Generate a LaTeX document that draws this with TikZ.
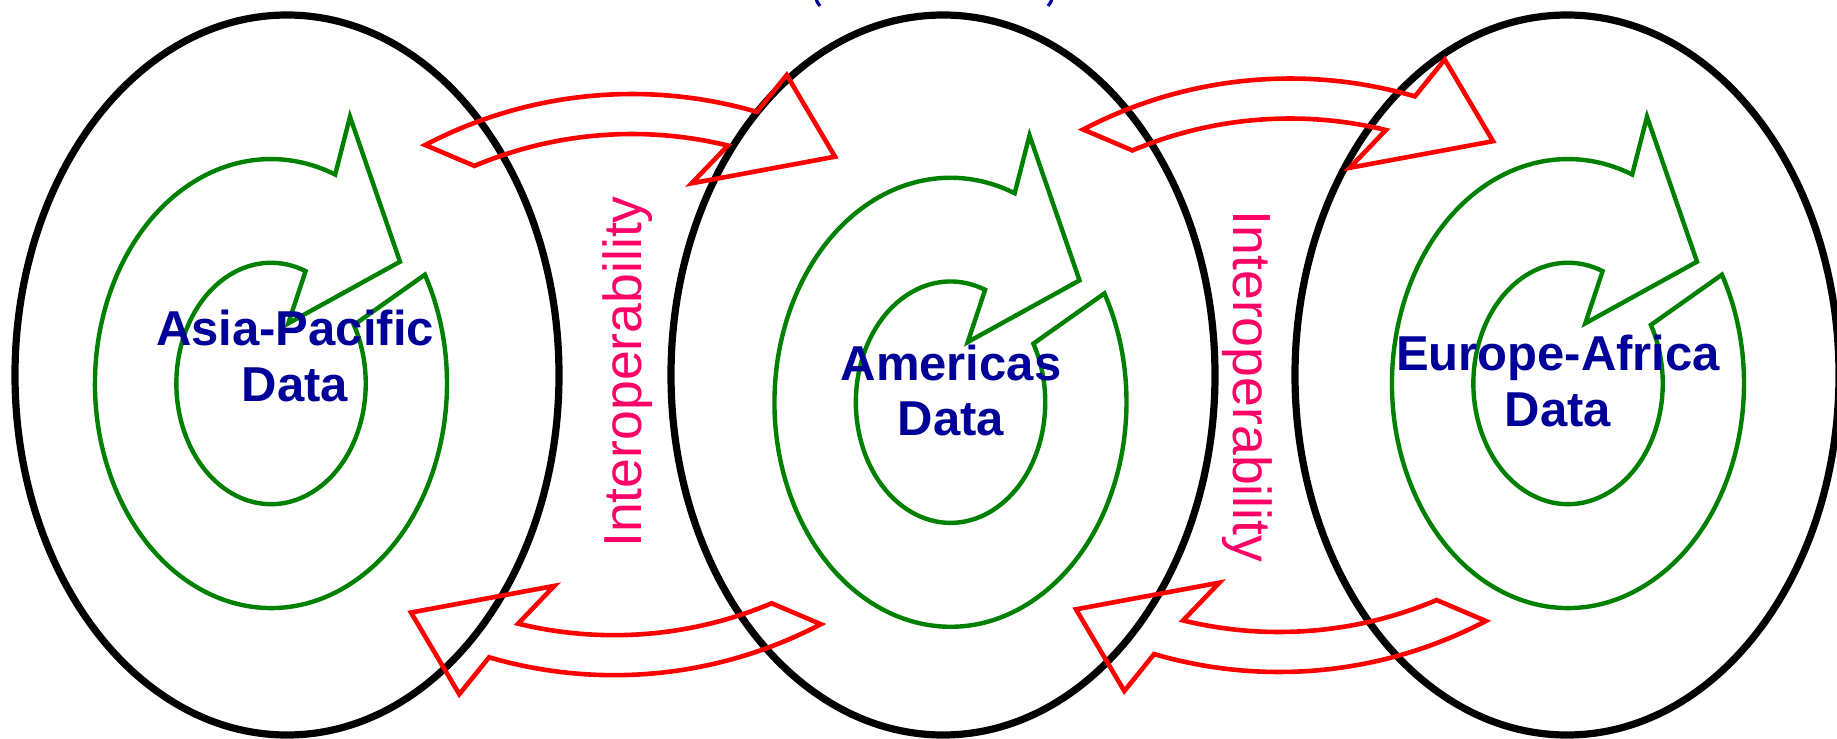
\documentclass[tikz,border=0pt]{standalone}
\usepackage{fontspec}
\setmainfont{Liberation Sans}
\usetikzlibrary{positioning}
\definecolor{navy}{RGB}{0,0,153}
\definecolor{rosered}{RGB}{255,0,102}
\definecolor{leafgreen}{RGB}{0,128,0}

\begin{document}
\begin{tikzpicture}[x=0.5pt,y=-0.5pt,
		ring/.style={draw=black,line width=3.6pt},
		swirl/.style={draw=leafgreen,line width=2.2pt,line join=miter},
		band/.style={draw=red,line width=2.3pt,line join=miter},
		region/.style={font=\fontsize{24.5}{28}\selectfont\bfseries,text=navy,inner sep=0pt,anchor=base},
		interop/.style={font=\fontsize{26.8}{30}\selectfont,text=rosered,inner sep=0pt,anchor=base},
		spiralarrow/.pic={
			\draw[swirl] (79,-266.8) -- (129,-121.8) -- (17.3,-60.2) -- (34.6,-112.4)
				arc[start angle=291.4,end angle=-29,x radius=94.7,y radius=120.7]
				-- (153.9,-108.8)
				arc[start angle=-29,end angle=291.4,x radius=176,y radius=224.5] -- cycle;
		},
		bandarrow/.pic={
			\draw[band] (242.3:445) arc[start angle=242.3,end angle=286.3,radius=445]
				-- (154.7,-464) -- (203,-382.3) -- (59.7,-355.7) -- (283.7:405)
				arc[start angle=283.7,end angle=247.1,radius=405] -- cycle;
		}]
		\useasboundingbox (0,0) rectangle (1837,739);

		% the three regions
		\draw[ring] (287,375) ellipse[x radius=272,y radius=360];
		\draw[ring] (943,375) ellipse[x radius=272,y radius=360];
		\draw[ring] (1567,375) ellipse[x radius=272,y radius=360];

		% data cycles
		\pic at (271,383.5) {spiralarrow};
		\pic at (950.5,402.2) {spiralarrow};
		\pic at (1568,383.5) {spiralarrow};

		% exchange between regions
		\pic at (632,539) {bandarrow};
		\pic at (1290,523.5) {bandarrow};
		\pic[rotate=180] at (614,230.2) {bandarrow};
		\pic[rotate=180] at (1279,227) {bandarrow};

		\node[region]	(asia)			at (295,345)					{Asia-Pacific};
		\node[region]	(asiadata)		at ([yshift=-28.3pt]asia.base)		{Data};
		\node[region]	(americas)		at (951,380)					{Americas};
		\node[region]	(americasdata)	at ([yshift=-27.5pt]americas.base)	{Data};
		\node[region]	(europe)		at (1558,370)					{Europe-Africa};
		\node[region]	(europedata)	at ([yshift=-28pt]europe.base)		{Data};

		\node[interop,rotate=90]	(interopleft)	at (641.7,372)		{Interoperability};
		\node[interop,rotate=-90]	(interopright)	at (1233,386.5)	{Interoperability};

		% bottoms of the cut-off title
		\draw[navy,line width=1.6pt] (816,-2) .. controls (817,2) .. (820,6);
		\draw[navy,line width=1.6pt] (1052,-2) .. controls (1051,2) .. (1048,6);
	\end{tikzpicture}
\end{document}
